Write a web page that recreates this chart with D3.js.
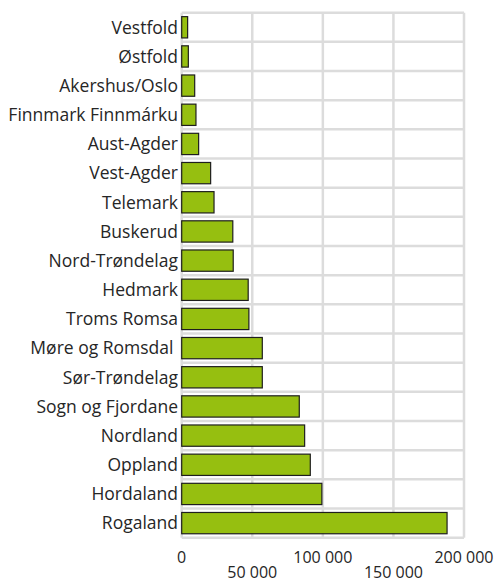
<!DOCTYPE html>
<html><head><meta charset="utf-8">
<script src="https://cdn.jsdelivr.net/npm/d3@7"></script>
<style>body{margin:0;background:#fff}svg{display:block}text{font-family:"Open Sans",sans-serif;fill:#262626;white-space:pre}</style>
</head><body>
<script>
const categories = ["Vestfold","Østfold","Akershus/Oslo","Finnmark Finnmárku","Aust-Agder","Vest-Agder","Telemark","Buskerud","Nord-Trøndelag","Hedmark","Troms Romsa","Møre og Romsdal ","Sør-Trøndelag","Sogn og Fjordane","Nordland","Oppland","Hordaland","Rogaland"];
const values = [4200,4700,9200,10100,12000,20500,22900,36200,36500,47100,47600,57100,57100,83300,87100,91100,99300,188000];
const tickValues = [0,50000,100000,150000,200000];
const tickLabels = ["0","50 000","100 000","150 000","200 000"];

(function(){
const W=501,H=583, pl=181.7, pr=464, pt=12.7, pb=537.7;
const svg=d3.select("body").append("svg").attr("width",W).attr("height",H);
const x=d3.scaleLinear().domain([0,200000]).range([pl,pr]);
const y=d3.scaleBand().domain(categories).range([pt,pb]).paddingInner(0.27).paddingOuter(0.135);
const rows=d3.scaleBand().domain(categories).range([pt,pb]);

const g=svg.append("g");
g.selectAll("line.v").data(tickValues).join("line")
 .attr("x1",d=>x(d)).attr("x2",d=>x(d)).attr("y1",pt).attr("y2",pb)
 .attr("stroke","#dcdcdc").attr("stroke-width",2.5);
const hb=categories.map(c=>rows(c)).concat([pb]);
g.selectAll("line.h").data(hb).join("line")
 .attr("x1",pl).attr("x2",pr).attr("y1",d=>d).attr("y2",d=>d)
 .attr("stroke","#dcdcdc").attr("stroke-width",2.5);

svg.selectAll("rect.bar").data(categories).join("rect")
 .attr("x",x(0)).attr("y",c=>y(c)).attr("height",y.bandwidth())
 .attr("width",(c,i)=>x(values[i])-x(0))
 .attr("fill","#96bf10").attr("stroke","#1e1e1e").attr("stroke-width",1.2);

svg.selectAll("text.cat").data(categories).join("text")
 .attr("x",178).attr("y",c=>rows(c)+rows.bandwidth()/2).attr("dy","0.36em")
 .attr("text-anchor","end").attr("font-size",17.5).text(c=>c);

svg.selectAll("text.tick").data(tickValues).join("text")
 .attr("x",d=>x(d)).attr("y",(d,i)=>i%2===0?557:572).attr("dy","0.35em")
 .attr("text-anchor","middle").attr("font-size",16).text((d,i)=>tickLabels[i]);
})();
</script>
</body></html>
